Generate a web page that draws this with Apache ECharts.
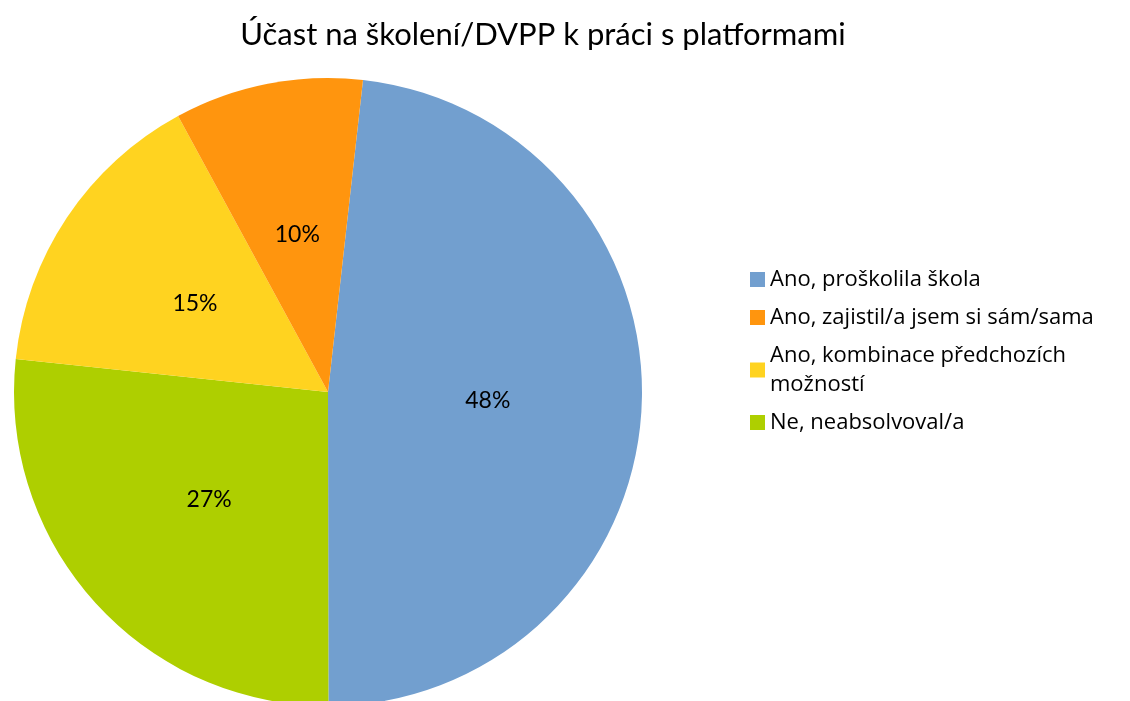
<!DOCTYPE html>
<html><head><meta charset="utf-8">
<script src="https://cdn.jsdelivr.net/npm/echarts@6/dist/echarts.min.js"></script>
<style>html,body{margin:0;padding:0;background:#fff}#c{width:1130px;height:701px}</style>
</head><body><div id="c"></div>
<script>
const title = 'Účast na školení/DVPP k práci s platformami';
const categories = ['Ano, proškolila škola', 'Ne, neabsolvoval/a', 'Ano, kombinace předchozích\nmožností', 'Ano, zajistil/a jsem si sám/sama'];
const values = [48.2, 26.7, 15.4, 9.7];
const colors = ['#729fcf', '#aecf00', '#ffd320', '#ff950e'];
const legendOrder = ['Ano, proškolila škola', 'Ano, zajistil/a jsem si sám/sama', 'Ano, kombinace předchozích\nmožností', 'Ne, neabsolvoval/a'];
const font = 'Lato, "Open Sans", sans-serif';

const chart = echarts.init(document.getElementById('c'), null, {renderer: 'canvas'});
chart.setOption({
  animation: false,
  title: {text: title, left: 538, top: 14, textAlign: 'center',
    textStyle: {fontFamily: font, fontSize: 31, fontWeight: 'normal', color: '#000'}},
  legend: {
    orient: 'vertical', left: 745, top: 260, itemWidth: 15, itemHeight: 15, itemGap: 9,
    icon: 'rect', data: legendOrder,
    textStyle: {fontFamily: '"Open Sans", sans-serif', fontSize: 22, color: '#000', lineHeight: 29}
  },
  series: [{
    type: 'pie', center: [328, 392], radius: 314, startAngle: 83.6, clockwise: true,
    label: {position: 'inside', fontFamily: font, fontSize: 23, color: '#000',
      formatter: p => Math.round(p.percent) + '%'},
    labelLine: {show: false},
    itemStyle: {borderWidth: 0},
    emphasis: {disabled: true},
    data: categories.map((n, i) => ({name: n, value: values[i], itemStyle: {color: colors[i]}}))
  }]
});
</script></body></html>
